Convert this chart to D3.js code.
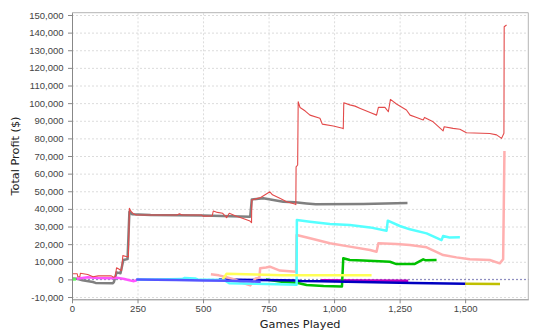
<!DOCTYPE html>
<html>
<head>
<meta charset="utf-8">
<script src="https://cdn.jsdelivr.net/npm/d3@7"></script>
<style>
  body { margin: 0; background: #fff; }
  svg { display: block; font-family: "DejaVu Sans", sans-serif; }
  .tick text { fill: #444; font-size: 9.5px; }
  .axis path, .axis line { stroke: #888; }
  .grid line { stroke: #dcdcdc; stroke-dasharray: 2,2; }
  .grid path { display: none; }
</style>
</head>
<body>
<svg width="547" height="333"></svg>
<script>
// series as [games played, total profit] pairs
var seriesRed = [[0,3200],[20,3200],[22,1500],[30,1500],[32,3500],[60,2800],[80,1500],[100,2000],[150,2000],[158,1200],[165,1500],[170,6600],[185,5300],[189,5000],[194,13500],[210,12900],[215,12800],[219,40300],[226,38400],[235,37200],[245,36500],[400,36500],[410,37200],[420,36500],[495,36500],[500,35900],[535,36000],[539,38800],[555,38000],[575,37500],[590,35000],[600,37500],[625,36000],[653,34600],[679,33100],[685,32200],[686,45000],[720,46500],[755,49700],[765,48000],[793,46000],[819,44100],[850,42800],[854,42400],[855,63900],[861,64900],[863,100800],[870,97500],[890,95500],[908,93200],[946,91400],[955,88100],[997,87000],[1032,85700],[1035,85500],[1037,100200],[1060,99000],[1080,98300],[1100,97000],[1140,94500],[1162,93200],[1169,97600],[1194,97600],[1207,95100],[1215,102100],[1238,99500],[1276,96100],[1290,93200],[1315,91900],[1340,90400],[1345,91900],[1378,89400],[1416,84300],[1420,86600],[1454,85700],[1480,85200],[1505,83200],[1594,82800],[1620,82000],[1639,80000],[1648,82900],[1649,143300],[1658,144300]];
var seriesBlue = [[245,0],[400,-300],[500,-600],[600,-800],[720,-1300]];
var seriesLightGreen = [[0,0],[15,0]];
var seriesYellow = [[575,0],[590,3200],[700,2800],[800,2400],[1143,2400]];
var seriesMagenta = [[18,400],[60,1200],[100,800],[150,700],[170,1000],[200,200],[215,-300],[233,-1000],[247,-500]];
var seriesCyan = [[247,0],[320,0],[420,200],[430,800],[470,500],[480,0],[580,-300],[600,-2200],[700,-2500],[780,-2700],[857,-3000],[858,33700],[908,32700],[984,31400],[1060,30900],[1137,29500],[1200,27600],[1205,33300],[1251,30300],[1289,28400],[1353,26100],[1410,22300],[1416,24600],[1440,23800],[1480,23900]];
var seriesPink = [[530,2900],[560,2300],[590,1200],[620,0],[650,-2000],[680,-3400],[690,-1500],[700,500],[715,1000],[718,6300],[740,6800],[755,7200],[793,5000],[830,4600],[855,4400],[857,25200],[908,23300],[984,20500],[1060,18600],[1137,16700],[1162,15700],[1169,20500],[1238,20100],[1289,19500],[1353,18200],[1416,13800],[1467,12500],[1518,11400],[1594,11000],[1632,9100],[1645,11400],[1650,72800]];
var seriesGray = [[0,500],[20,300],[40,-500],[80,-1500],[90,-2000],[155,-2200],[160,-1500],[170,4000],[185,3500],[196,11000],[212,11500],[219,38400],[230,36900],[300,36500],[500,36300],[680,35600],[686,45400],[730,46000],[768,45000],[806,44100],[851,43700],[895,43100],[930,42600],[1111,42800],[1280,43300]];
var seriesNavy = [[560,0],[700,-300],[800,-500],[857,-600],[870,-900],[950,-1000],[1100,-1500],[1300,-2000],[1500,-2500]];
var seriesDarkGreen = [[740,0],[760,-500],[800,-1300],[858,-1900],[895,-3200],[960,-3700],[1030,-4000],[1035,12000],[1060,11000],[1111,10700],[1213,10000],[1238,8700],[1308,8800],[1340,11400],[1350,10800],[1391,11000]];
var seriesOlive = [[1500,-2500],[1633,-2600]];
var seriesPurple = [[950,-500],[1283,-800]];

var xTicks = [0, 250, 500, 750, 1000, 1250, 1500];
var yTicks = d3.range(-10000, 150001, 10000);

var plotLeft = 72, plotRight = 528.3, plotTop = 12.7, plotBottom = 299.3;

var x = d3.scaleLinear().domain([0, 1741]).range([plotLeft, plotRight]);
var y = d3.scaleLinear().domain([-11290, 151300]).range([plotBottom, plotTop]);

var fmt = d3.formatLocale({decimal: ".", thousands: ",", grouping: [3], currency: ["$", ""], minus: "-"}).format(",");

var svg = d3.select('svg');

// grid
svg.append('g').attr('class', 'grid')
   .attr('transform', 'translate(0,' + plotBottom + ')')
   .call(d3.axisBottom(x).tickValues(xTicks).tickSize(-(plotBottom - plotTop)).tickFormat(''));
svg.append('g').attr('class', 'grid')
   .attr('transform', 'translate(' + plotLeft + ',0)')
   .call(d3.axisLeft(y).tickValues(yTicks).tickSize(-(plotRight - plotLeft)).tickFormat(''));

// plot outline (top / right)
svg.append('path')
   .attr('d', 'M' + plotLeft + ',' + plotTop + 'H' + plotRight + 'V' + plotBottom)
   .attr('fill', 'none').attr('stroke', '#b4b4b4');

// zero line
svg.append('line')
   .attr('x1', plotLeft).attr('x2', plotRight)
   .attr('y1', y(0)).attr('y2', y(0))
   .attr('stroke', '#6a6ab0').attr('stroke-width', 0.8)
   .attr('stroke-dasharray', '2,2');

var line = d3.line().x(function(d) { return x(d[0]); }).y(function(d) { return y(d[1]); });

// drawn highest series first, so the red one lands on top
var drawList = [
  [seriesPurple, '#c000c0', 2.5],
  [seriesOlive, '#c0c000', 2.5],
  [seriesDarkGreen, '#00c000', 2.5],
  [seriesNavy, '#0000c0', 2.5],
  [seriesGray, '#808080', 2.5],
  [seriesPink, '#ffafaf', 2.5],
  [seriesCyan, '#55ffff', 2.5],
  [seriesMagenta, '#ff55ff', 2.5],
  [seriesYellow, '#ffff55', 2.5],
  [seriesLightGreen, '#55ff55', 2.5],
  [seriesBlue, '#5555ff', 2.5],
  [seriesRed, '#e34a4a', 1.1]
];

svg.append('g').selectAll('path')
   .data(drawList)
   .enter().append('path')
   .attr('d', function(d) { return line(d[0]); })
   .attr('fill', 'none')
   .attr('stroke', function(d) { return d[1]; })
   .attr('stroke-width', function(d) { return d[2]; })
   .attr('stroke-linejoin', 'round');

// axes
svg.append('g').attr('class', 'axis')
   .attr('transform', 'translate(0,' + plotBottom + ')')
   .call(d3.axisBottom(x).tickValues(xTicks).tickSize(4).tickPadding(1.5).tickSizeOuter(0).tickFormat(fmt));
svg.append('g').attr('class', 'axis')
   .attr('transform', 'translate(' + plotLeft + ',0)')
   .call(d3.axisLeft(y).tickValues(yTicks).tickSize(4).tickPadding(4.5).tickSizeOuter(0).tickFormat(fmt));

svg.append('text')
   .attr('x', (plotLeft + plotRight) / 2).attr('y', 328)
   .attr('text-anchor', 'middle')
   .style('font-size', '11.3px').style('fill', '#222')
   .text('Games Played');

svg.append('text')
   .attr('transform', 'translate(18.5,' + (plotTop + plotBottom) / 2 + ') rotate(-90)')
   .attr('text-anchor', 'middle')
   .style('font-size', '11.3px').style('fill', '#222')
   .text('Total Profit ($)');
</script>
</body>
</html>
